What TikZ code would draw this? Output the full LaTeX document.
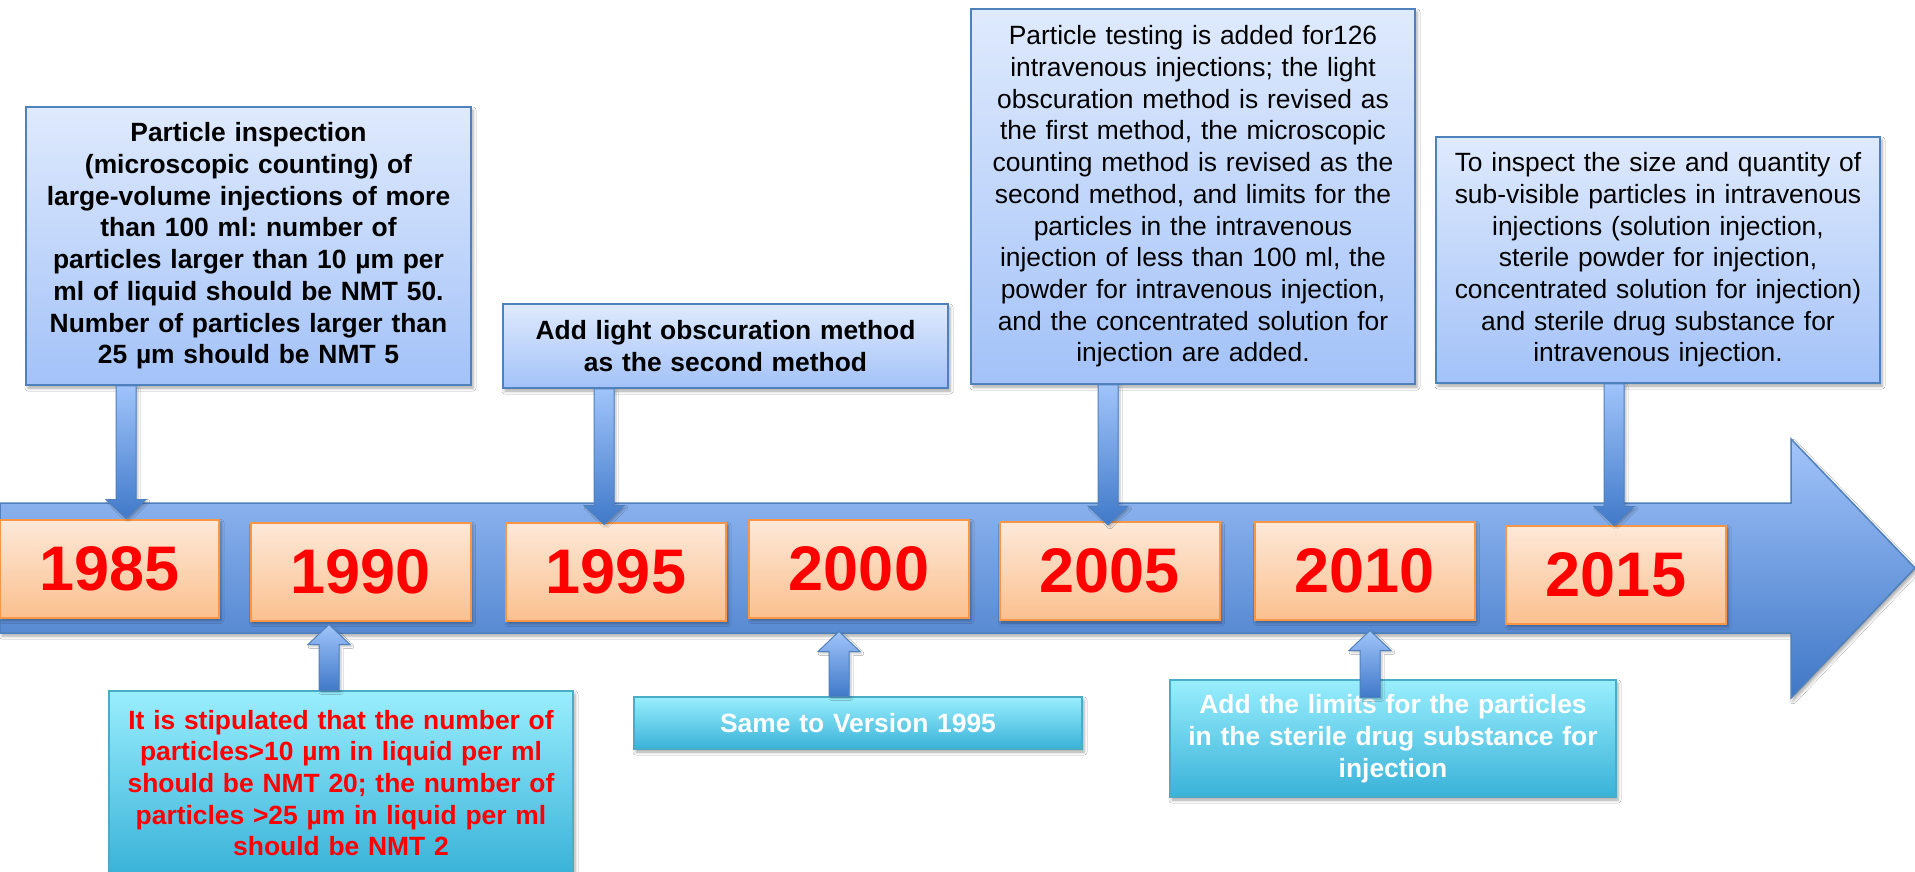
\documentclass[tikz,border=0pt]{standalone}
\usepackage{fontspec}
\setmainfont{Liberation Sans}
\usetikzlibrary{calc,shadows.blur}
\frenchspacing

\definecolor{upT}{RGB}{223,234,253}
\definecolor{upB}{RGB}{163,194,248}
\definecolor{bord}{RGB}{79,129,189}
\definecolor{yrT}{RGB}{253,233,217}
\definecolor{yrB}{RGB}{251,192,143}
\definecolor{yrBord}{RGB}{247,150,70}
\definecolor{cyT}{RGB}{153,238,253}
\definecolor{cyB}{RGB}{57,178,216}
\definecolor{cyBord}{RGB}{75,172,198}
\definecolor{bandT}{RGB}{162,196,250}
\definecolor{bandB}{RGB}{63,119,198}
\definecolor{arT}{RGB}{160,196,250}
\definecolor{arB}{RGB}{64,121,201}

\newcommand\blkdown[2]{%
  \path[connarrow] let \p1=(#1), \p2=(#2) in
    (\x1-10pt,\y1) -- (\x1-10pt,\y2+19pt) -- (\x1-20pt,\y2+19pt) -- (\x1,\y2)
    -- (\x1+20pt,\y2+19pt) -- (\x1+10pt,\y2+19pt) -- (\x1+10pt,\y1) -- cycle;}
\newcommand\blkup[2]{%
  \path[connarrow] let \p1=(#1), \p2=(#2) in
    (\x1-10pt,\y1) -- (\x1-10pt,\y2-20pt) -- (\x1-21pt,\y2-20pt) -- (\x1,\y2)
    -- (\x1+21pt,\y2-20pt) -- (\x1+10pt,\y2-20pt) -- (\x1+10pt,\y1) -- cycle;}

\begin{document}
\begin{tikzpicture}[
  x=1pt,y=-1pt,
  shad/.style={blur shadow={shadow xshift=2pt,shadow yshift=-3pt,shadow blur radius=3pt,shadow opacity=35}},
  upbox/.style={shad,draw=bord,line width=1.5pt,top color=upT,bottom color=upB,align=center,inner sep=0pt,
    font=\fontsize{26.4}{31.7}\selectfont},
  upboxb/.style={upbox,font=\fontsize{26.4}{31.7}\selectfont\bfseries},
  lowbox/.style={shad,draw=cyBord,line width=1.5pt,top color=cyT,bottom color=cyB,align=center,inner sep=0pt,
    font=\fontsize{26.4}{31.7}\selectfont\bfseries},
  yearbox/.style={shad,draw=yrBord,line width=2pt,top color=yrT,bottom color=yrB,inner sep=0pt,
    minimum width=220pt,minimum height=98pt,text=red,font=\fontsize{63}{63}\selectfont\bfseries},
  connarrow/.style={blur shadow={shadow xshift=2pt,shadow yshift=-2pt,shadow blur radius=2pt,shadow opacity=25},
    draw=bord,line width=1pt,top color=arT,bottom color=arB,line join=miter},
  band/.style={draw=bord,line width=1.5pt,top color=bandT,bottom color=bandB},
]
\useasboundingbox (0,0) rectangle (1915,872);
\clip (0,0) rectangle (1915,872);
\fill[white] (0,0) rectangle (1915,872);

% timeline band
\path[band,shad] (0,503) -- (1791,503) -- (1791,439) -- (1915,568) -- (1791,698) -- (1791,633) -- (0,633) -- cycle;

% year boxes
\node[yearbox,minimum width=219pt] (y1985) at (109.5,568.5) {1985};
\node[yearbox] (y1990) at (360.5,571.5) {1990};
\node[yearbox] (y1995) at (616,571.5) {1995};
\node[yearbox] (y2000) at (859,568.5) {2000};
\node[yearbox] (y2005) at (1109.5,571) {2005};
\node[yearbox] (y2010) at (1364.5,570.5) {2010};
\node[yearbox] (y2015) at (1616,574.5) {2015};

% upper description boxes
\node[upboxb,text width=430pt,minimum width=445pt,minimum height=278pt] (boxA) at (248.5,246)
 {Particle inspection\\(microscopic counting) of\\large-volume injections of more\\than 100 ml: number of\\particles larger than 10 µm per\\ml of liquid should be NMT 50.\\Number of particles larger than\\25 µm should be NMT 5};
\node[upboxb,text width=430pt,minimum width=445pt,minimum height=84pt] (boxB) at (725.5,346)
 {Add light obscuration method\\as the second method};
\node[upbox,text width=430pt,minimum width=444pt,minimum height=375pt] (boxC) at (1193,196.5)
 {Particle testing is added for126\\intravenous injections; the light\\obscuration method is revised as\\the first method, the microscopic\\counting method is revised as the\\second method, and limits for the\\particles in the intravenous\\injection of less than 100 ml, the\\powder for intravenous injection,\\and the concentrated solution for\\injection are added.};
\node[upbox,text width=430pt,minimum width=444pt,minimum height=246pt] (boxD) at (1658,260)
 {To inspect the size and quantity of\\sub-visible particles in intravenous\\injections (solution injection,\\sterile powder for injection,\\concentrated solution for injection)\\and sterile drug substance for\\intravenous injection.};

% lower description boxes
\node[lowbox,text=red,text width=450pt,minimum width=464pt,minimum height=184pt] (boxE) at (341,783)
 {It is stipulated that the number of\\particles>10 µm in liquid per ml\\should be NMT 20; the number of\\particles >25 µm in liquid per ml\\should be NMT 2};
\node[lowbox,text=white,text width=430pt,minimum width=448pt,minimum height=52pt] (boxF) at (858,723)
 {Same to Version 1995};
\node[lowbox,text=white,text width=430pt,minimum width=446pt,minimum height=117pt] (boxG) at (1393,738.5)
 {Add the limits for the particles\\in the sterile drug substance for\\injection};

% connectors
\blkdown{126,0 |- boxA.south}{126,0 |- y1985.north}
\blkdown{604,0 |- boxB.south}{$(604,0 |- y1995.north)+(0,3)$}
\blkdown{1108,0 |- boxC.south}{$(1108,0 |- y2005.north)+(0,4)$}
\blkdown{1614,0 |- boxD.south}{$(1614,0 |- y2015.north)+(0,1)$}
\blkup{329,0 |- boxE.north}{$(329,0 |- y1990.south)+(0,3)$}
\blkup{839,0 |- boxF.north}{$(839,0 |- y2000.south)+(0,13)$}
\blkup{$(1370,0 |- boxG.north)+(0,18)$}{$(1370,0 |- y2010.south)+(0,10)$}
\end{tikzpicture}
\end{document}
